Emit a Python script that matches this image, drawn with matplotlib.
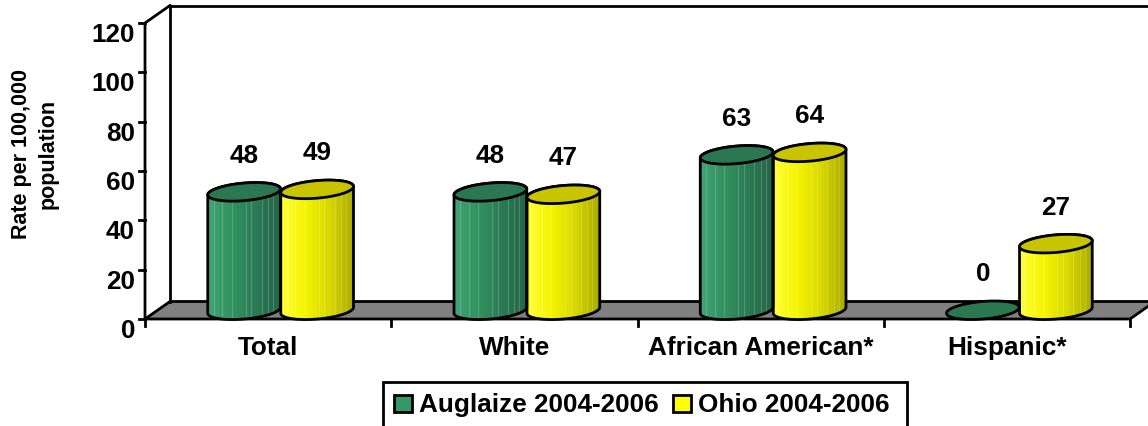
import numpy as np
import matplotlib
matplotlib.use("Agg")
import matplotlib.pyplot as plt
from matplotlib.colors import LinearSegmentedColormap
from matplotlib.patches import Polygon, Rectangle

plt.rcParams["font.family"] = ["Liberation Sans", "DejaVu Sans"]
plt.rcParams["font.weight"] = "bold"

# ---- data ----
categories = ["Total", "White", "African American*", "Hispanic*"]
auglaize = [48, 48, 63, 0]
ohio = [49, 47, 64, 27]
series_names = ["Auglaize 2004-2006", "Ohio 2004-2006"]
y_ticks = [0, 20, 40, 60, 80, 100, 120]
y_title = "Rate per 100,000\npopulation"

# ---- layout (pixels) ----
W, H, DPI = 1148, 427, 100
X0_PX, Y0_PX = 145.0, 320.0          # front-left corner of the floor
PX_PER_CAT = 246.25                   # width of one category slot
PX_PER_UNIT = 296.0 / 120.0           # vertical pixels per rate unit
DEPTH_PX = (25.0, 17.5)               # 3-D depth offset (right, up)
BAR_W_PX = 73.0
ELL_H_PX = 17.5
TILT_DEG = 5.0
FS = 18.8

fig = plt.figure(figsize=(W / DPI, H / DPI), dpi=DPI)
ax = fig.add_axes([0, 0, 1, 1])
ax.set_xlim(-X0_PX / PX_PER_CAT, (W - X0_PX) / PX_PER_CAT)
ax.set_ylim((Y0_PX - H) / PX_PER_UNIT, Y0_PX / PX_PER_UNIT)
ax.axis("off")

dx = DEPTH_PX[0] / PX_PER_CAT
dy = DEPTH_PX[1] / PX_PER_UNIT
ncat = len(categories)
ymax = y_ticks[-1]
LW = 2.0

# walls and floor
floor = Polygon([(0, 0), (ncat, 0), (ncat + dx, dy), (dx, dy)], closed=True,
                facecolor="#808080", edgecolor="black", lw=LW, zorder=1)
ax.add_patch(floor)
ax.plot([dx, dx, ncat + dx], [dy, ymax + dy, ymax + dy], color="black", lw=LW, zorder=1)
ax.plot([0, 0, dx], [0, ymax, ymax + dy], color="black", lw=LW, zorder=1)

# value ticks and labels on the front-left axis
tick_len = 6.0 / PX_PER_CAT
for v in y_ticks:
    ax.plot([-tick_len, 0], [v, v], color="black", lw=LW, zorder=1)
    ax.text(-10.0 / PX_PER_CAT, v - 11.0 / PX_PER_UNIT, str(v), ha="right", va="center",
            fontsize=FS, fontweight="bold")

# category ticks and labels
for i in range(ncat + 1):
    ax.plot([i, i], [0, -7.0 / PX_PER_UNIT], color="black", lw=LW, zorder=1)
for i, c in enumerate(categories):
    ax.text(i + 0.5, -28.0 / PX_PER_UNIT, c, ha="center", va="center",
            fontsize=FS, fontweight="bold")

ax.text((35.0 - X0_PX) / PX_PER_CAT, (Y0_PX - 154.0) / PX_PER_UNIT, y_title,
        rotation=90, ha="center", va="center", fontsize=15.5, fontweight="bold",
        linespacing=1.35, multialignment="center")

# ---- cylinders ----
green_side = LinearSegmentedColormap.from_list(
    "gside", ["#40a575", "#329160", "#2b7a55", "#256448"])
yellow_side = LinearSegmentedColormap.from_list(
    "yside", ["#ffff3a", "#f4f400", "#d8d800", "#a9a900"])
styles = [
    dict(cmap=green_side, top="#2a7752", legend="#339966"),
    dict(cmap=yellow_side, top="#c9c400", legend="#ffff00"),
]

a_px = BAR_W_PX / 2.0
b_px = ELL_H_PX / 2.0
th = np.deg2rad(TILT_DEG)


def ellipse_pts(cx, cy, t):
    ex = a_px * np.cos(t)
    ey = b_px * np.sin(t)
    rx = ex * np.cos(th) - ey * np.sin(th)
    ry = ex * np.sin(th) + ey * np.cos(th)
    return np.column_stack([cx + rx / PX_PER_CAT, cy + ry / PX_PER_UNIT])


def cylinder(cx, value, st):
    base = dy / 2.0
    top = base + value
    full = np.linspace(0, 2 * np.pi, 120)
    if value > 0:
        lower = ellipse_pts(cx, base, np.linspace(np.pi, 2 * np.pi, 60))
        upper = ellipse_pts(cx, top, np.linspace(0, np.pi, 60))
        side_pts = np.vstack([lower, upper])
        side = Polygon(side_pts, closed=True, facecolor="none", edgecolor="none")
        ax.add_patch(side)
        xl, xr = side_pts[:, 0].min(), side_pts[:, 0].max()
        yb, yt = side_pts[:, 1].min(), side_pts[:, 1].max()
        grad = np.linspace(0, 1, 256)[None, :]
        im = ax.imshow(grad, cmap=st["cmap"], extent=[xl, xr, yb, yt],
                       aspect="auto", origin="lower", zorder=3, interpolation="bilinear")
        im.set_clip_path(side)
        # faint vertical highlights on the curved face
        for f in (0.08, 0.2, 0.33, 0.52, 0.6, 0.74, 0.83, 0.9):
            xx = xl + f * (xr - xl)
            ln, = ax.plot([xx, xx], [yb, yt], color="white", lw=0.8, alpha=0.18, zorder=3.1)
            ln.set_clip_path(side)
        ax.add_patch(Polygon(side_pts, closed=True, facecolor="none",
                             edgecolor="black", lw=LW, zorder=3.2, joinstyle="round"))
    cap = Polygon(ellipse_pts(cx, top, full), closed=True, facecolor=st["top"],
                  edgecolor="black", lw=LW, zorder=3.3)
    ax.add_patch(cap)
    ax.text(cx, top + 15.0, f"{value:g}", ha="center", va="center",
            fontsize=FS, fontweight="bold", zorder=5)


half_w = BAR_W_PX / PX_PER_CAT
for i in range(ncat):
    centre = i + 0.5 + dx / 2.0
    for k, vals in enumerate([auglaize, ohio]):
        cx = centre + (k - 0.5) * half_w
        cylinder(cx, vals[i], styles[k])

# ---- legend ----
def px2d(px, py):
    return (px - X0_PX) / PX_PER_CAT, (Y0_PX - py) / PX_PER_UNIT

lx0, ly0 = px2d(383, 383)
lx1, ly1 = px2d(907, 440)
ax.add_patch(Rectangle((lx0, ly1), lx1 - lx0, ly0 - ly1, facecolor="white",
                       edgecolor="black", lw=LW, zorder=4, clip_on=False))
legend_x = [394, 673]
for k, name in enumerate(series_names):
    sx0, sy0 = px2d(legend_x[k], 396)
    sx1, sy1 = px2d(legend_x[k] + 18, 413)
    ax.add_patch(Rectangle((sx0, sy1), sx1 - sx0, sy0 - sy1,
                           facecolor=styles[k]["legend"], edgecolor="black",
                           lw=LW, zorder=5))
    tx, ty = px2d(legend_x[k] + 25, 405)
    ax.text(tx, ty, name, ha="left", va="center", fontsize=FS,
            fontweight="bold", zorder=5)

fig.savefig("out.png", dpi=DPI)
